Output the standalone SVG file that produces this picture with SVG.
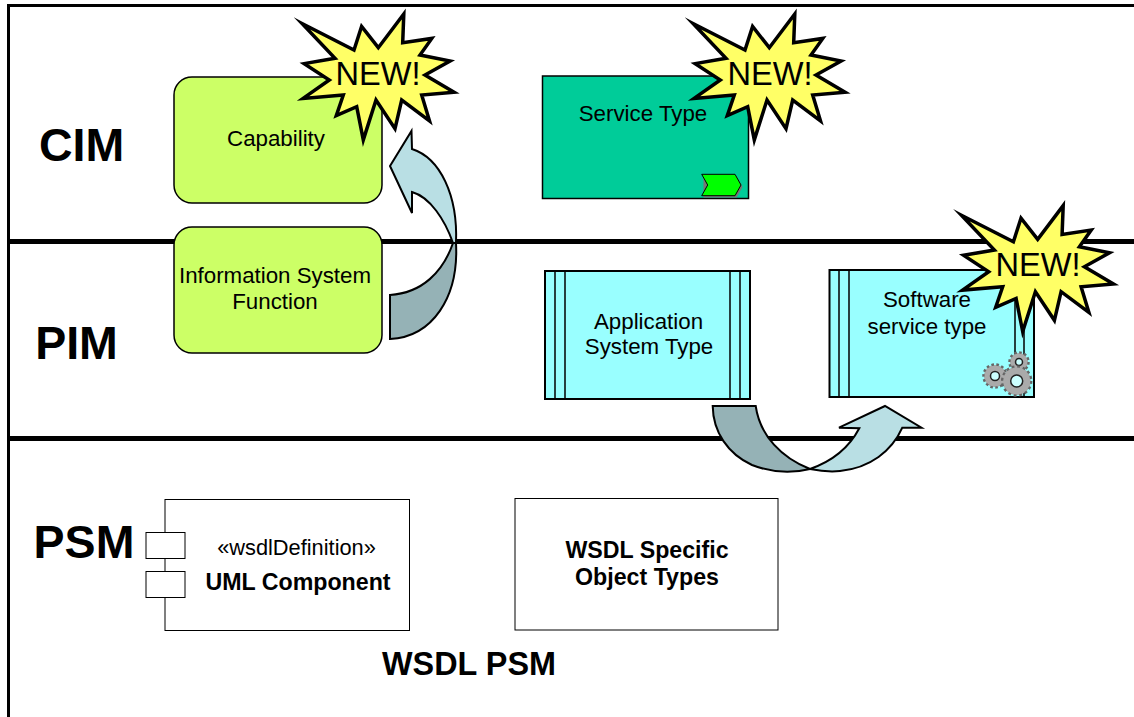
<svg xmlns="http://www.w3.org/2000/svg" width="1134" height="717" viewBox="0 0 1134 717">
<style>
text{font-family:"Liberation Sans",Arial,sans-serif;fill:#000;text-anchor:middle}
.lab{font-size:22.3px}
.bold{font-size:23.2px;font-weight:bold}
.lvl{font-size:46.5px;font-weight:bold}
.new{font-size:32.6px}
.rule{stroke:#000;stroke-width:5;fill:none}
.green{fill:#ccff66;stroke:#000;stroke-width:1.5}
.cy{fill:#99ffff;stroke:#000;stroke-width:2}
.thin{fill:#fff;stroke:#000;stroke-width:1}
.star{fill:#ffff66;stroke:#000;stroke-width:3.5;stroke-linejoin:miter;stroke-miterlimit:12}
.dark{fill:#95b2b6;stroke:#000;stroke-width:2;stroke-linejoin:miter}
.light{fill:#b9dfe4;stroke:#000;stroke-width:2;stroke-linejoin:miter}
.hole{fill:#ccffff;stroke:#222;stroke-width:1.5}
</style>
<defs>
<polygon id="burst" class="star" points="302,23.5 354,50 361.6,26.5 378.3,47.7 403.8,13.9 402.7,42.7 431.8,38.4 420,55 450.1,61.1 425,75 454.1,92.2 421.7,95 429.5,120.8 401.7,100 395,128.6 376,100 363.3,139.9 356.7,106.7 336.3,115.6 343.3,95 303.1,98.4 329.3,80 304.2,63.6 335,58.3"/>
</defs>
<g id="frame">
<path class="rule" style="stroke-width:3" d="M8.5,717V5.5H1134"/>
<path class="rule" d="M8,241.5H1134M8,438.5H1134"/>
</g>
<g id="level-labels">
<text class="lvl" x="81.5" y="161">CIM</text>
<text class="lvl" x="76.5" y="359">PIM</text>
<text class="lvl" x="84" y="558">PSM</text>
</g>
<g id="capability">
<rect class="green" x="174" y="77" width="208" height="126" rx="18"/>
<text class="lab" x="276" y="146">Capability</text>
</g>
<g id="information-system-function">
<rect class="green" x="174" y="227" width="208" height="126" rx="18"/>
<text class="lab" x="275" y="283">Information System</text>
<text class="lab" x="275" y="309">Function</text>
</g>
<g id="service-type">
<rect x="542.5" y="76" width="206" height="122.5" fill="#00cc99" stroke="#000" stroke-width="1.5"/>
<text class="lab" x="643" y="121">Service Type</text>
<polygon points="703.5,176 736.5,176 742.5,187 736.5,197.5 703.5,197.5" fill="#777"/>
<polygon points="701.7,174.3 735,174.3 741,185 735,195.7 701.7,195.7 707.7,185" fill="#00ff00" stroke="#000" stroke-width="1"/>
</g>
<g id="application-system-type">
<rect class="cy" x="545" y="271" width="205" height="128"/>
<path d="M555,271V399M565,271V399M730,271V399M740,271V399" stroke="#000" stroke-width="1.5" fill="none"/>
<text class="lab" x="648.5" y="329">Application</text>
<text class="lab" x="649" y="354">System Type</text>
</g>
<g id="software-service-type">
<rect class="cy" x="829.5" y="270" width="204.5" height="127"/>
<path d="M839,270V397M849,270V397M1015,270V397M1024,270V397" stroke="#000" stroke-width="1.5" fill="none"/>
<text class="lab" x="927" y="307">Software</text>
<text class="lab" x="927" y="334">service type</text>
<g id="gears" fill="#aaa">
<circle cx="995" cy="376" r="11" stroke="#666" stroke-width="3.5" stroke-dasharray="2.5 2.3"/><circle cx="995" cy="376" r="10.5"/>
<circle class="hole" cx="995" cy="376" r="4.5"/>
<circle cx="1019" cy="362" r="9" stroke="#666" stroke-width="3.5" stroke-dasharray="2.5 2.2"/><circle cx="1019" cy="362" r="8.5"/>
<circle class="hole" cx="1019" cy="362" r="3.5"/>
<circle cx="1016.7" cy="381" r="14" stroke="#666" stroke-width="3.5" stroke-dasharray="2.8 2.7"/><circle cx="1016.7" cy="381" r="13.5"/>
<circle class="hole" cx="1016.7" cy="381" r="6"/>
</g>
</g>
<g id="uml-component">
<rect class="thin" x="165" y="499.5" width="244.5" height="131"/>
<rect class="thin" x="146" y="532.5" width="39" height="26"/>
<rect class="thin" x="146" y="571.5" width="39" height="26"/>
<text x="296.5" y="555" font-size="21.8">«wsdlDefinition»</text>
<text class="bold" x="298" y="590">UML Component</text>
</g>
<g id="wsdl-object-types">
<rect class="thin" x="515" y="498.5" width="263" height="131.5"/>
<text class="bold" x="647" y="558">WSDL Specific</text>
<text class="bold" x="647" y="585">Object Types</text>
</g>
<text id="wsdl-psm" x="469" y="675" font-size="32.4" font-weight="bold">WSDL PSM</text>
<g id="connectors">
<path class="dark" d="M390,295C422,293 443,272 453,243L456,243C459,298 432,337 390,339Z"/>
<path class="light" d="M390,166L411.5,131 412,149C440,158 458,195 456,243L453,243C445,220 430,197 412,192L412,213Z"/>
<path class="dark" d="M712.7,406H755.7C760,436 782,458 810,469C790,474 770,472 752,465C728,454 713,432 712.7,406Z"/>
<path class="light" d="M810,469C833,461 850,446 859.3,428.3L839,427.7 885,406 921.5,427.7 902.3,427.7C892,451 870,468 840,471C830,472 820,471 810,469Z"/>
</g>
<g id="new-badge-1">
<use href="#burst"/>
<text class="new" x="378" y="85">NEW!</text>
</g>
<g id="new-badge-2">
<use href="#burst" x="391"/>
<text class="new" x="770" y="85">NEW!</text>
</g>
<g id="new-badge-3">
<use href="#burst" x="659.4" y="191.7"/>
<text class="new" x="1038" y="276">NEW!</text>
</g>
</svg>
